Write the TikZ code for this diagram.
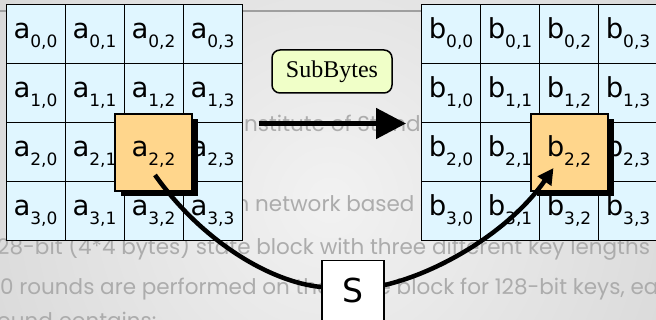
\documentclass[tikz,border=0pt]{standalone}
\usepackage{fontspec}
\newfontfamily\cellfont{DejaVu Sans}
\newfontfamily\bgfont{Poppins}
\newfontfamily\labfont{Liberation Serif}
\usetikzlibrary{arrows.meta,shadows,calc}

\definecolor{cellfill}{RGB}{224,246,255}
\definecolor{hifill}{RGB}{255,214,140}
\definecolor{opfill}{RGB}{240,255,200}
\definecolor{ghost}{RGB}{172,172,172}
\definecolor{bgin}{RGB}{242,242,242}
\definecolor{bgout}{RGB}{196,196,196}

% state entry: letter with a lowered index pair
\newcommand\entry[2]{{\cellfont\fontsize{27.5}{27.5}\selectfont #1}{\cellfont\fontsize{17}{17}\selectfont\raisebox{-9pt}{#2}}}

\tikzset{
  cell/.style={draw, line width=1pt, fill=cellfill, minimum size=59pt,
    inner sep=0pt, text height=34pt, text depth=25pt},
  hicell/.style={draw, line width=2pt, fill=hifill, minimum size=77pt,
    inner sep=0pt, text height=43pt, text depth=34pt,
    drop shadow={shadow xshift=6pt, shadow yshift=-5pt, opacity=1, fill=black}},
  opbox/.style={draw, line width=1.5pt, rounded corners=8pt, fill=opfill,
    minimum width=120pt, minimum height=43pt, inner sep=0pt,
    font=\labfont\fontsize{24}{24}\selectfont},
  sbox/.style={draw, line width=1.5pt, fill=white, anchor=north,
    minimum width=62pt, inner sep=0pt, text height=42pt, text depth=30pt,
    font=\cellfont\fontsize{33}{33}\selectfont},
  flow/.style={line width=5pt, -{Triangle[length=30pt,width=30pt]}},
  link/.style={line width=4.5pt},
  ghosttext/.style={anchor=base west, inner sep=0pt, text=ghost,
    font=\bgfont\fontsize{21.5}{21.5}\selectfont},
}

\begin{document}
\begin{tikzpicture}[x=1pt, y=-1pt]
  \useasboundingbox (0,0) rectangle (656,320);
  \clip (0,0) rectangle (656,320);

  % slide background
  \shade[inner color=bgin, outer color=bgout] (-370,-500) rectangle (1030,900);
  \draw[gray!75, line width=1.5pt] (0,11) -- (656,11);

  % faded slide text behind the diagram
  \node[ghosttext] (g1) at (244,132) {\llap{National I}nstitute of Standards and Technology};
  \node[ghosttext] (g2) at (255,212) {\llap{permutation }network based on};
  \node[ghosttext] (g3) at (-3,255) {\llap{1}28-bit (4*4 bytes) state block with three different key lengths};
  \node[ghosttext] (g4) at (0,295) {\llap{1}0 rounds are performed on the state block for 128-bit keys, each};
  \node[ghosttext] (g5) at (-3,328) {\llap{Each r}ound contains:};

  % input and output state grids
  \foreach \r in {0,...,3} {
    \foreach \c in {0,...,3} {
      \node[cell] (a\r\c) at ({35.5+59*\c},{34.5+59*\r}) {\entry{a}{\r,\c}};
      \node[cell] (b\r\c) at ({451+59*\c},{34.5+59*\r}) {\entry{b}{\r,\c}};
    }
  }

  % highlighted byte in each state
  \node[hicell] (ha) at (a22.center) {\entry{a}{2,2}};
  \node[hicell] (hb) at (b22.center) {\entry{b}{2,2}};

  % operation label and arrow
  \node[opbox] (op) at (332,71.5) {SubBytes};
  \draw[flow, shorten <=16pt, shorten >=15pt] (a13.south east) -- (b10.south west);

  % S-box path
  \node[sbox] (s) at (353,260) {S};
  \coordinate (c0) at ($(ha.center)+(1.5,22.5)$);
  \coordinate (c1) at ($(s.north west)+(0,27)$);
  \coordinate (c2) at ($(s.north east)+(0,25)$);
  \coordinate (c3) at ($(hb.center)+(-15.5,15.5)$);
  \draw[link] (c0) .. controls +(46,65) and +(-52,-5) .. (c1);
  \draw[link, -{Triangle[length=16pt,width=16pt]}] (c2) .. controls +(56,-13) and +(-43,62) .. (c3);
\end{tikzpicture}
\end{document}
